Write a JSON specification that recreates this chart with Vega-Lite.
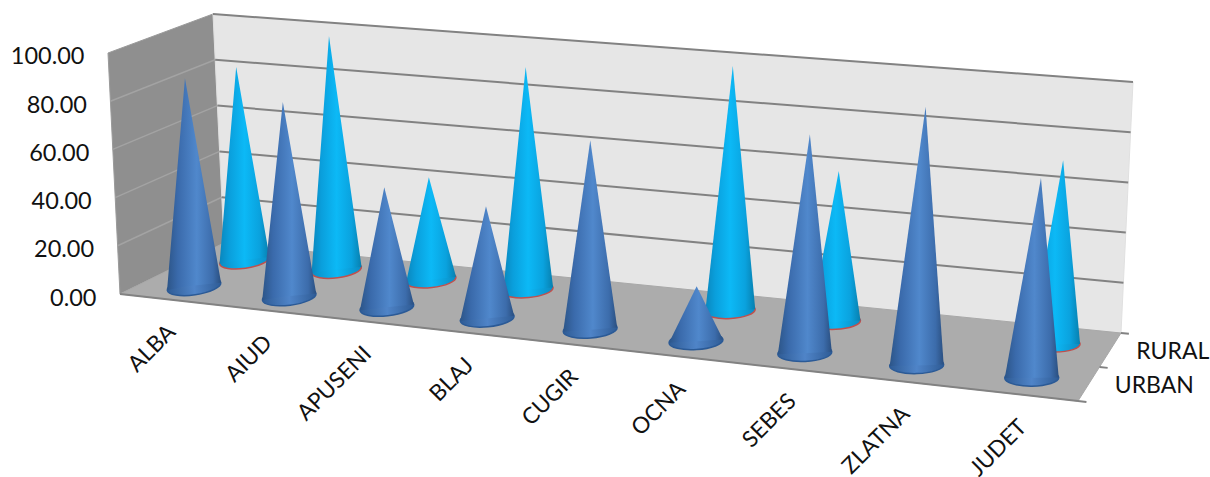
{
"$schema":"https://vega.github.io/schema/vega-lite/v6.json",
"width":1210,"height":477,"padding":0,"autosize":{"type":"none"},
"background":"white",
"resolve":{"axis":{"y":"independent"}},
"config":{"view":{"stroke":null},"text":{"font":"Lato"},"axis":{"labelFont":"Lato"}},
"data":{"values":[
{"part":"backwall","c":0,"d":2,"v":0,"o":0},{"part":"backwall","c":9,"d":2,"v":0,"o":1},{"part":"backwall","c":9,"d":2,"v":100,"o":2},{"part":"backwall","c":0,"d":2,"v":100,"o":3},{"part":"backwall","c":0,"d":2,"v":0,"o":4},
{"part":"sidewall","c":0,"d":0,"v":0,"o":0},{"part":"sidewall","c":0,"d":2,"v":0,"o":1},{"part":"sidewall","c":0,"d":2,"v":100,"o":2},{"part":"sidewall","c":0,"d":0,"v":100,"o":3},{"part":"sidewall","c":0,"d":0,"v":0,"o":4},
{"part":"floor","c":0,"d":0,"v":0,"o":0},{"part":"floor","c":9,"d":0,"v":0,"o":1},{"part":"floor","c":9,"d":2,"v":0,"o":2},{"part":"floor","c":0,"d":2,"v":0,"o":3},{"part":"floor","c":0,"d":0,"v":0,"o":4},
{"part":"edge","c":0,"d":0,"v":0,"o":0},{"part":"edge","c":9,"d":0,"v":0,"o":1},
{"part":"topedge","c":0,"d":0,"v":100,"o":0},{"part":"topedge","c":0,"d":2,"v":100,"o":1},{"part":"topedge","c":9,"d":2,"v":100,"o":2},
{"part":"sidegrid","c":0,"d":0,"v":20,"o":0},{"part":"sidegrid","c":0,"d":2,"v":20,"o":1},
{"part":"sidegrid","c":0,"d":0,"v":40,"o":0},{"part":"sidegrid","c":0,"d":2,"v":40,"o":1},
{"part":"sidegrid","c":0,"d":0,"v":60,"o":0},{"part":"sidegrid","c":0,"d":2,"v":60,"o":1},
{"part":"sidegrid","c":0,"d":0,"v":80,"o":0},{"part":"sidegrid","c":0,"d":2,"v":80,"o":1},
{"part":"backgrid","c":0,"d":2,"v":20,"o":0},{"part":"backgrid","c":9,"d":2,"v":20,"o":1},
{"part":"backgrid","c":0,"d":2,"v":40,"o":0},{"part":"backgrid","c":9,"d":2,"v":40,"o":1},
{"part":"backgrid","c":0,"d":2,"v":60,"o":0},{"part":"backgrid","c":9,"d":2,"v":60,"o":1},
{"part":"backgrid","c":0,"d":2,"v":80,"o":0},{"part":"backgrid","c":9,"d":2,"v":80,"o":1},
{"part":"tick","c":9,"d":0,"v":0,"o":0},{"part":"tick","c":9.07,"d":0,"v":0,"o":1},
{"part":"tick","c":9,"d":1,"v":0,"o":0},{"part":"tick","c":9.07,"d":1,"v":0,"o":1},
{"part":"tick","c":9,"d":2,"v":0,"o":0},{"part":"tick","c":9.07,"d":2,"v":0,"o":1},
{"part":"serieslabel","c":9,"d":0.5,"v":0,"series":"URBAN"},{"part":"serieslabel","c":9,"d":1.5,"v":0,"series":"RURAL"},
{"part":"cone","district":"ALBA","series":"RURAL","value":83},
{"part":"cone","district":"AIUD","series":"RURAL","value":99.4},
{"part":"cone","district":"APUSENI","series":"RURAL","value":43.2},
{"part":"cone","district":"BLAJ","series":"RURAL","value":92.8},
{"part":"cone","district":"CUGIR","series":"RURAL","value":0},
{"part":"cone","district":"OCNA","series":"RURAL","value":99.9},
{"part":"cone","district":"SEBES","series":"RURAL","value":60.8},
{"part":"cone","district":"ZLATNA","series":"RURAL","value":0},
{"part":"cone","district":"JUDET","series":"RURAL","value":72.8},
{"part":"cone","district":"ALBA","series":"URBAN","value":87.1},
{"part":"cone","district":"AIUD","series":"URBAN","value":80.7},
{"part":"cone","district":"APUSENI","series":"URBAN","value":49.3},
{"part":"cone","district":"BLAJ","series":"URBAN","value":45.6},
{"part":"cone","district":"CUGIR","series":"URBAN","value":76.2},
{"part":"cone","district":"OCNA","series":"URBAN","value":21.9},
{"part":"cone","district":"SEBES","series":"URBAN","value":86.2},
{"part":"cone","district":"ZLATNA","series":"URBAN","value":100.7},
{"part":"cone","district":"JUDET","series":"URBAN","value":77}
]},
"transform":[
{"calculate":"isValid(datum.c)?datum.c:indexof(['ALBA','AIUD','APUSENI','BLAJ','CUGIR','OCNA','SEBES','ZLATNA','JUDET'],datum.district)+0.515","as":"cc"},
{"calculate":"isValid(datum.d)?datum.d:(datum.series==='URBAN'?0.5:1.5)","as":"dd"},
{"calculate":"(datum.cc/9)/((datum.cc/9)+(1-datum.cc/9)*1.13)","as":"u"},
{"calculate":"datum.dd/2","as":"w"},
{"calculate":"(1-datum.w)*(120+958*datum.u)+datum.w*(224+897*datum.u)","as":"bx0"},
{"calculate":"(1-datum.w)*(108+984*datum.u)+datum.w*(213+920*datum.u)","as":"bx1"},
{"calculate":"(1-datum.w)*(294+107*datum.u)+datum.w*(243+90*datum.u)","as":"by0"},
{"calculate":"(1-datum.w)*(53+84*datum.u)+datum.w*(14+68*datum.u)","as":"by1"},
{"calculate":"isValid(datum.value)?datum.value:datum.v","as":"val"},
{"calculate":"datum.bx0+(datum.bx1-datum.bx0)*datum.val/100","as":"px"},
{"calculate":"(294-(datum.by0+(datum.by1-datum.by0)*datum.val/100))/2.41","as":"py"},
{"calculate":"(294-datum.by0)/2.41","as":"pybase"},
{"calculate":"8.5*(1-datum.u)","as":"tilt"},
{"calculate":"360-datum.tilt","as":"rot"}
],
"layer":[
{"transform":[{"filter":"datum.part==='sidewall'"}],
 "mark":{"type":"line","fill":"#8f8f8f","stroke":"#9a9a9a","strokeWidth":1},
 "encoding":{"x":{"field":"px","type":"quantitative","scale":{"domain":[0,1210],"nice":false,"zero":false},"axis":null},
  "y":{"field":"py","type":"quantitative","scale":{"domain":[-75.93,121.99],"nice":false,"zero":false},
   "axis":{"values":[0,20,40,60,80,100],"format":".2f","title":null,"domain":false,"ticks":false,"grid":false,"offset":-96,"labelPadding":0,"labelFontSize":23.5,"labelFont":"Lato","labelColor":"#111111","labelBaseline":"middle","encoding":{"labels":{"dx":{"value":{"signal":"-datum.value*0.12"}},"dy":{"value":4}}}}},
  "order":{"field":"o","type":"quantitative"}}},
{"transform":[{"filter":"datum.part==='backwall'"}],
 "mark":{"type":"line","fill":"#e6e6e6","stroke":"#e0e0e0","strokeWidth":1},
 "encoding":{"x":{"field":"px","type":"quantitative","scale":{"domain":[0,1210],"nice":false,"zero":false},"axis":null},
  "y":{"field":"py","type":"quantitative","scale":{"domain":[-75.93,121.99],"nice":false,"zero":false},"axis":null},
  "order":{"field":"o","type":"quantitative"}}},
{"transform":[{"filter":"datum.part==='floor'"}],
 "mark":{"type":"line","fill":"#acacac","stroke":"#a8a8a8","strokeWidth":1},
 "encoding":{"x":{"field":"px","type":"quantitative","scale":{"domain":[0,1210],"nice":false,"zero":false},"axis":null},
  "y":{"field":"py","type":"quantitative","scale":{"domain":[-75.93,121.99],"nice":false,"zero":false},"axis":null},
  "order":{"field":"o","type":"quantitative"}}},
{"transform":[{"filter":"datum.part==='sidegrid'"}],
 "mark":{"type":"line","stroke":"#a3a3a3","strokeWidth":1.5},
 "encoding":{"x":{"field":"px","type":"quantitative","scale":{"domain":[0,1210],"nice":false,"zero":false},"axis":null},
  "y":{"field":"py","type":"quantitative","scale":{"domain":[-75.93,121.99],"nice":false,"zero":false},"axis":null},
  "detail":{"field":"v"},"order":{"field":"o","type":"quantitative"}}},
{"transform":[{"filter":"datum.part==='backgrid'||datum.part==='topedge'||datum.part==='edge'||datum.part==='tick'"}],
 "mark":{"type":"line","stroke":"#828282","strokeWidth":2},
 "encoding":{"x":{"field":"px","type":"quantitative","scale":{"domain":[0,1210],"nice":false,"zero":false},"axis":null},
  "y":{"field":"py","type":"quantitative","scale":{"domain":[-75.93,121.99],"nice":false,"zero":false},"axis":null},
  "detail":[{"field":"part"},{"field":"v"},{"field":"d"}],"order":{"field":"o","type":"quantitative"}}},
{"transform":[{"filter":"datum.part==='cone'&&datum.series==='RURAL'&&datum.value>0"}],
 "mark":{"type":"point","filled":true,"shape":"M-1,0 A1,0.31 0 1 0 1,0 A1,0.31 0 1 0 -1,0 Z","fill":{"x1":0,"x2":1,"y1":0,"y2":0,"gradient":"linear","stops":[{"offset":0,"color":"#0a8cc4"},{"offset":0.5,"color":"#0cb8f5"},{"offset":1,"color":"#0a8cc4"}]},"stroke":"#c0504d","strokeWidth":1.5,"opacity":1,"size":2500},
 "encoding":{"x":{"field":"bx0","type":"quantitative","scale":{"domain":[0,1210],"nice":false,"zero":false},"axis":null},
  "y":{"field":"pybase","type":"quantitative","scale":{"domain":[-75.93,121.99],"nice":false,"zero":false},"axis":null},
  "angle":{"field":"rot","type":"quantitative","scale":null}}},
{"transform":[{"filter":"datum.part==='cone'&&datum.series==='RURAL'&&datum.value>0"},{"calculate":"[-1,0,1]","as":"k"},{"flatten":["k"]},
  {"calculate":"datum.k===0?datum.px:datum.bx0+datum.k*25","as":"ax"},
  {"calculate":"datum.k===0?datum.py:datum.pybase+datum.k*25*tan(datum.tilt*PI/180)/2.41","as":"ay"},
  {"calculate":"datum.k===0?datum.pybase:datum.ay","as":"ay2"}],
 "mark":{"type":"area","line":false,"color":{"x1":0,"x2":1,"y1":0,"y2":0,"gradient":"linear","stops":[{"offset":0,"color":"#0a86bc"},{"offset":0.2,"color":"#0a9fdc"},{"offset":0.5,"color":"#0cb9f6"},{"offset":0.8,"color":"#0aa2de"},{"offset":1,"color":"#077fae"}]}},
 "encoding":{"x":{"field":"ax","type":"quantitative","scale":{"domain":[0,1210],"nice":false,"zero":false},"axis":null},
  "y":{"field":"ay","type":"quantitative","scale":{"domain":[-75.93,121.99],"nice":false,"zero":false},"axis":null,"stack":null},
  "y2":{"field":"ay2"},
  "detail":{"field":"district"}}},
{"transform":[{"filter":"datum.part==='cone'&&datum.series==='URBAN'&&datum.value>0"}],
 "mark":{"type":"point","filled":true,"shape":"M-1,0 A1,0.31 0 1 0 1,0 A1,0.31 0 1 0 -1,0 Z","fill":{"x1":0,"x2":1,"y1":0,"y2":0,"gradient":"linear","stops":[{"offset":0,"color":"#2f5c96"},{"offset":0.5,"color":"#4f84c8"},{"offset":1,"color":"#2f5c96"}]},"stroke":"#2b5a96","strokeWidth":1.5,"opacity":1,"size":2916},
 "encoding":{"x":{"field":"bx0","type":"quantitative","scale":{"domain":[0,1210],"nice":false,"zero":false},"axis":null},
  "y":{"field":"pybase","type":"quantitative","scale":{"domain":[-75.93,121.99],"nice":false,"zero":false},"axis":null},
  "angle":{"field":"rot","type":"quantitative","scale":null}}},
{"transform":[{"filter":"datum.part==='cone'&&datum.series==='URBAN'&&datum.value>0"},{"calculate":"[-1,0,1]","as":"k"},{"flatten":["k"]},
  {"calculate":"datum.k===0?datum.px:datum.bx0+datum.k*27","as":"ax"},
  {"calculate":"datum.k===0?datum.py:datum.pybase+datum.k*27*tan(datum.tilt*PI/180)/2.41","as":"ay"},
  {"calculate":"datum.k===0?datum.pybase:datum.ay","as":"ay2"}],
 "mark":{"type":"area","line":false,"color":{"x1":0,"x2":1,"y1":0,"y2":0,"gradient":"linear","stops":[{"offset":0,"color":"#2c5588"},{"offset":0.2,"color":"#3a6aab"},{"offset":0.55,"color":"#5088cc"},{"offset":0.85,"color":"#3c6cab"},{"offset":1,"color":"#2a4f80"}]}},
 "encoding":{"x":{"field":"ax","type":"quantitative","scale":{"domain":[0,1210],"nice":false,"zero":false},"axis":null},
  "y":{"field":"ay","type":"quantitative","scale":{"domain":[-75.93,121.99],"nice":false,"zero":false},"axis":null,"stack":null},
  "y2":{"field":"ay2"},
  "detail":{"field":"district"}}},
{"transform":[{"filter":"datum.part==='cone'&&datum.series==='URBAN'"},
  {"calculate":"120+958*datum.u+3","as":"tx"},{"calculate":"(294-(294+107*datum.u+29))/2.41","as":"ty"}],
 "mark":{"type":"text","align":"right","baseline":"middle","angle":315,"fontSize":22.5,"font":"Lato","color":"#111111"},
 "encoding":{"x":{"field":"tx","type":"quantitative","scale":{"domain":[0,1210],"nice":false,"zero":false},"axis":null},
  "y":{"field":"ty","type":"quantitative","scale":{"domain":[-75.93,121.99],"nice":false,"zero":false},"axis":null},
  "text":{"field":"district"}}},
{"transform":[{"filter":"datum.part==='serieslabel'"}],
 "mark":{"type":"text","align":"left","baseline":"middle","dx":26,"dy":2,"fontSize":23,"font":"Lato","color":"#111111"},
 "encoding":{"x":{"field":"px","type":"quantitative","scale":{"domain":[0,1210],"nice":false,"zero":false},"axis":null},
  "y":{"field":"py","type":"quantitative","scale":{"domain":[-75.93,121.99],"nice":false,"zero":false},"axis":null},
  "text":{"field":"series"}}}
]
}
